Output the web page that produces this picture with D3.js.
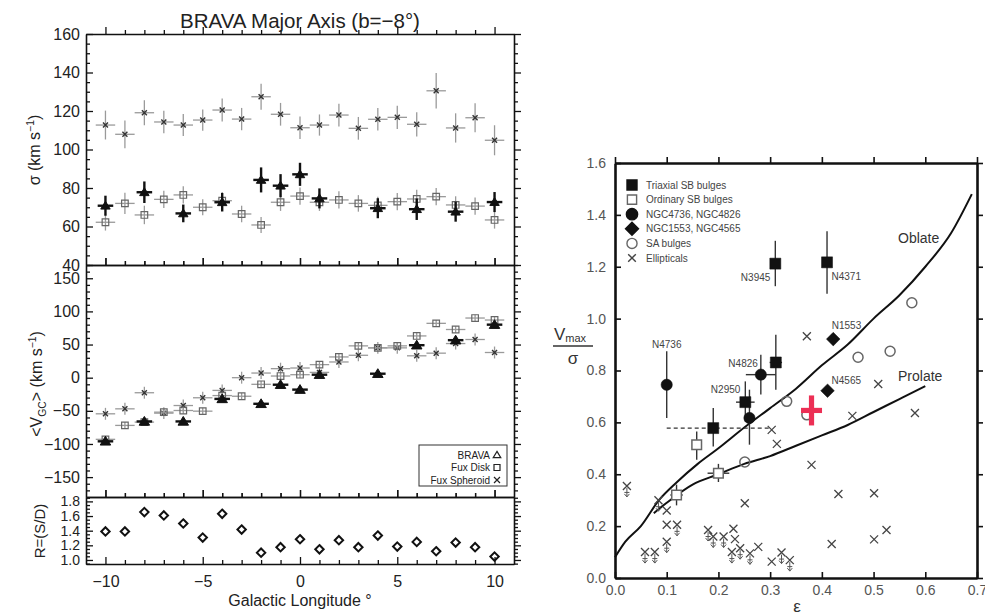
<!DOCTYPE html>
<html>
<head>
<meta charset="utf-8">
<script src="https://cdn.jsdelivr.net/npm/d3@7"></script>
<style>
body { margin: 0; background: #fff; }
svg { display: block; font-family: "Liberation Sans", Arial, sans-serif; }
</style>
</head>
<body>
<div id="chart"></div>
<script>
// ---------- left figure: BRAVA major axis (b=-8) ----------
const lonAll   = [-10,-9,-8,-7,-6,-5,-4,-3,-2,-1,0,1,2,3,4,5,6,7,8,9,10];
const lonBrava = [-10,-8,-6,-4,-2,-1,0,1,4,6,8,10];

// sigma (km/s)
const sigSph      = [112.7,107.9,119.1,114.3,112.7,115.3,120.5,115.8,127.4,118.3,111.3,112.7,117.9,111,115.7,116.7,113.1,130.5,111.2,116.5,104.8];
const sigSphErr   = [7.5,7.2,6.5,5.8,5.7,5.5,6,5.8,6.7,5.9,5.9,5.5,5.9,5.9,5.8,6,6.3,9.2,7.6,7.5,7.8];
const sigDisk     = [62.2,72,66,74.1,76.4,70,73.4,66.5,60.8,72.6,75.8,72.6,73.8,72,71,72.9,74.3,75.5,71.2,70.6,63.4];
const sigDiskErr  = [4.3,5.5,4.8,4.5,4.5,4.2,4.5,4.3,4.2,4.5,4.5,4.5,4.5,4.3,4.5,4.5,4.8,4.5,4.5,4.5,4.5];
const sigBrava    = [70.8,77.8,66.8,72.6,84.2,81.2,87.1,74.6,69.5,69,67.7,72.7];
const sigBravaErr = [5.2,5.6,4.6,4.8,6.5,6,6,5.2,5.2,5.6,5.2,5.2];

// mean velocity <V_GC> (km/s)
const velSph     = [-54.5,-47,-22.7,-53.5,-42,-30.3,-19.2,0,7,13.6,14.6,8,23.7,33.8,45,45,33,37,51.5,57.6,38];
const velDisk    = [-93,-72,-67,-52,-49.5,-50.5,-27,-28,-10,2.5,4.5,19.7,31.3,48,45,48,63,82,72.7,90,87];
const velBrava   = [-96,-66,-66,-32,-39.4,-10.6,-18,4.5,6,49,56.6,80];
const velSphErr  = 9, velDiskErr = 5, velBravaErr = 4;

// spheroid/disk ratio
const ratioR = [1.389,1.389,1.654,1.608,1.498,1.306,1.631,1.416,1.10,1.174,1.283,1.146,1.27,1.174,1.334,1.183,1.247,1.119,1.238,1.174,1.046];

// ---------- right figure: Vmax/sigma vs ellipticity ----------
const legendLabels = ["Triaxial SB bulges","Ordinary SB bulges","NGC4736, NGC4826","NGC1553, NGC4565","SA bulges","Ellipticals"];

const triEps = [0.31,0.41,0.311,0.252,0.19];
const triV   = [1.212,1.217,0.831,0.678,0.578];
const triLo  = [1.125,1.096,0.726,0.603,0.507];
const triHi  = [1.30,1.337,0.938,0.758,0.655];
const triEpsErr = [0,0,0.012,0.018,0];

const ordEps = [0.158,0.2,0.119];
const ordV   = [0.514,0.404,0.32];
const ordLo  = [0.456,0.37,0.28];
const ordHi  = [0.565,0.44,0.36];
const ordEpsErr = [0,0.021,0.012];

const circEps = [0.1,0.282,0.26];
const circV   = [0.745,0.784,0.617];
const circLo  = [0.617,0.707,0.514];
const circHi  = [0.874,0.861,0.726];
const circEpsErr = [0,0.029,0];

const diaEps = [0.422,0.411];
const diaV   = [0.921,0.722];

const saEps = [0.574,0.47,0.532,0.332,0.371,0.251];
const saV   = [1.061,0.851,0.874,0.681,0.629,0.447];

const ellEps = [0.023,0.058,0.077,0.084,0.10,0.10,0.12,0.10,0.18,0.19,0.21,0.229,0.232,0.226,0.242,0.261,0.277,0.303,0.322,0.338,0.251,0.303,0.313,0.371,0.38,0.432,0.419,0.501,0.501,0.525,0.459,0.509,0.58];
const ellV   = [0.355,0.10,0.10,0.30,0.26,0.205,0.205,0.14,0.185,0.16,0.16,0.19,0.15,0.10,0.115,0.095,0.12,0.063,0.098,0.069,0.288,0.571,0.517,0.932,0.436,0.324,0.131,0.327,0.149,0.185,0.625,0.748,0.636];
const ellLim = [1,1,1,1,0,0,1,1,1,1,1,0,0,1,1,1,0,0,1,1,0,0,0,0,0,0,0,0,0,0,0,0,0];

const galNames = ["N3945","N4371","N4736","N4826","N2950","N1553","N4565"];
const galEps   = [0.31,0.41,0.1,0.282,0.252,0.422,0.411];
const galV     = [1.212,1.217,0.745,0.784,0.678,0.921,0.722];

const oblateEps = [0,0.02,0.05,0.085,0.12,0.16,0.2,0.25,0.3,0.35,0.4,0.45,0.5,0.55,0.6,0.65,0.69];
const oblateV   = [0.08,0.14,0.2,0.3,0.37,0.44,0.5,0.58,0.655,0.73,0.82,0.9,1.0,1.09,1.2,1.33,1.48];
const prolEps   = [0.075,0.1,0.15,0.2,0.25,0.3,0.35,0.4,0.45,0.5,0.55,0.6];
const prolV     = [0.25,0.29,0.36,0.40,0.44,0.47,0.51,0.55,0.59,0.64,0.69,0.74];

const thisEps = 0.38, thisV = 0.646;     // red cross
const limitV = 0.578, limitEps = [0.1, 0.30]; // dashed range

// ---------------------------------------------------------
const svg = d3.select("#chart").append("svg")
    .attr("width", 985).attr("height", 615);
svg.append("rect").attr("width", 985).attr("height", 615).attr("fill", "#fff");

// marker paths
const sqPath = s => `M${-s},${-s}h${2*s}v${2*s}h${-2*s}Z`;
const triPath = s => `M0,${-s}L${s*1.05},${s*0.75}L${-s*1.05},${s*0.75}Z`;
const diaPath = s => `M0,${-s}L${s},0L0,${s}L${-s},0Z`;
const timesPath = s => `M${-s},${-s}L${s},${s}M${-s},${s}L${s},${-s}`;

// four-sided frame with inward ticks
function boxAxes(g, x, y, o) {
    const [yb, yt] = y.range();
    const [xl, xr] = x.range();
    const put = (axis, tx, ty, tv, size, fmt, pad, keepDomain) => {
        const s = g.append("g")
            .attr("transform", `translate(${tx},${ty})`)
            .call(axis.tickValues(tv).tickSize(-size).tickSizeOuter(0)
                .tickPadding(pad).tickFormat(fmt || (() => "")));
        if (!keepDomain) s.select(".domain").remove();
        s.select(".domain").attr("stroke", o.color).attr("stroke-width", o.lw);
        s.selectAll(".tick line").attr("stroke", o.color).attr("stroke-width", o.tw);
        s.selectAll(".tick text").attr("fill", o.textColor)
            .style("font-size", o.font + "px")
            .style("font-family", '"Liberation Sans", Arial, sans-serif');
        return s;
    };
    put(d3.axisBottom(x), 0, yb, o.xMajor, o.major, o.xFmt, o.xPad, true);
    put(d3.axisTop(x), 0, yt, o.xMajor, -o.major, null, 0, true);
    put(d3.axisLeft(y), xl, 0, o.yMajor, o.major, o.yFmt, o.yPad, true);
    put(d3.axisRight(y), xr, 0, o.yMajor, -o.major, null, 0, true);
    if (o.xMinor) {
        put(d3.axisBottom(x), 0, yb, o.xMinor, o.minor, null, 0, false);
        put(d3.axisTop(x), 0, yt, o.xMinor, -o.minor, null, 0, false);
    }
    if (o.yMinor) {
        put(d3.axisLeft(y), xl, 0, o.yMinor, o.minor, null, 0, false);
        put(d3.axisRight(y), xr, 0, o.yMinor, -o.minor, null, 0, false);
    }
}

// ================= LEFT =================
const left = svg.append("g");
const xL   = d3.scaleLinear().domain([-11, 11]).range([86, 514]);
const ySig = d3.scaleLinear().domain([40, 160]).range([265, 34]);
const yVel = d3.scaleLinear().domain([-180, 170]).range([497, 265]);
const yR   = d3.scaleLinear().domain([0.945, 1.86]).range([564, 497]);

const lonMajor = [-10,-5,0,5,10];
const lonMinor = lonAll.filter(v => v % 5 !== 0);
const leftStyle = {color: "#111", textColor: "#222", lw: 1.6, tw: 1.3, major: 7, minor: 4, font: 16};

boxAxes(left, xL, ySig, {...leftStyle, xMajor: lonMajor, xMinor: lonMinor,
    yMajor: [40,60,80,100,120,140,160], yMinor: d3.range(45, 160, 5).filter(v => v % 20 !== 0),
    yFmt: d3.format("d"), yPad: 6});
boxAxes(left, xL, yVel, {...leftStyle, xMajor: lonMajor, xMinor: lonMinor,
    yMajor: [-150,-100,-50,0,50,100,150], yMinor: d3.range(-170, 171, 10).filter(v => v % 50 !== 0),
    yFmt: d3.format("d"), yPad: 6});
boxAxes(left, xL, yR, {...leftStyle, font: 14, xMajor: lonMajor, xMinor: lonMinor,
    yMajor: [1.0,1.2,1.4,1.6,1.8], yMinor: [0.95,1.05,1.1,1.15,1.25,1.3,1.35,1.45,1.5,1.55,1.65,1.7,1.75,1.85],
    yFmt: d3.format(".1f"), yPad: 6, xFmt: d3.format("d"), xPad: 12});
left.selectAll("g").filter(function () { return this.getAttribute("transform") === "translate(0,564)"; })
    .selectAll(".tick text").style("font-size", "16px");

// error bars helper
function errBars(g, xs, ys, errs, x, y, halfW, color, w) {
    xs.forEach((l, i) => {
        const e = Array.isArray(errs) ? errs[i] : errs;
        g.append("line").attr("x1", x(l - halfW)).attr("x2", x(l + halfW))
            .attr("y1", y(ys[i])).attr("y2", y(ys[i]))
            .attr("stroke", color).attr("stroke-width", w);
        g.append("line").attr("x1", x(l)).attr("x2", x(l))
            .attr("y1", y(ys[i] - e)).attr("y2", y(ys[i] + e))
            .attr("stroke", color).attr("stroke-width", w);
    });
}
function markers(g, xs, ys, x, y, d, fill, stroke, sw) {
    g.selectAll(null).data(xs).enter().append("path")
        .attr("transform", (l, i) => `translate(${x(l)},${y(ys[i])})`)
        .attr("d", d).attr("fill", fill).attr("stroke", stroke).attr("stroke-width", sw);
}

const grayBar = "#9a9a9a", grayMk = "#666";

// sigma panel
const gS = left.append("g");
errBars(gS, lonAll, sigSph, sigSphErr, xL, ySig, 0.5, grayBar, 1.3);
markers(gS, lonAll, sigSph, xL, ySig, timesPath(2.5), "none", "#333", 1.4);
errBars(gS, lonAll, sigDisk, sigDiskErr, xL, ySig, 0.5, grayBar, 1.3);
markers(gS, lonAll, sigDisk, xL, ySig, sqPath(3.3), "none", grayMk, 1.2);
errBars(gS, lonBrava, sigBrava, sigBravaErr, xL, ySig, 0.4, "#111", 2.4);
markers(gS, lonBrava, sigBrava, xL, ySig, triPath(4.5), "#111", "#111", 1);

// velocity panel
const gV = left.append("g");
errBars(gV, lonAll, velSph, velSphErr, xL, yVel, 0.5, grayBar, 1.3);
markers(gV, lonAll, velSph, xL, yVel, timesPath(2.5), "none", "#333", 1.4);
errBars(gV, lonAll, velDisk, velDiskErr, xL, yVel, 0.5, grayBar, 1.3);
markers(gV, lonAll, velDisk, xL, yVel, sqPath(3.3), "none", grayMk, 1.2);
errBars(gV, lonBrava, velBrava, velBravaErr, xL, yVel, 0.4, "#111", 2.4);
markers(gV, lonBrava, velBrava, xL, yVel, triPath(5), "#111", "#111", 1);

// legend box (velocity panel)
const lg = left.append("g");
lg.append("rect").attr("x", 419).attr("y", 445).attr("width", 88).attr("height", 41)
    .attr("fill", "#fff").attr("stroke", "#333").attr("stroke-width", 1);
const legL = ["BRAVA", "Fux Disk", "Fux Spheroid"];
const legSym = [triPath(3.6), sqPath(3), timesPath(3)];
legL.forEach((t, i) => {
    const yy = 455 + i * 12.5;
    lg.append("text").attr("x", 490).attr("y", yy + 3.5).attr("text-anchor", "end")
        .style("font-size", "10px").attr("fill", "#222").text(t);
    lg.append("path").attr("transform", `translate(497,${yy})`).attr("d", legSym[i])
        .attr("fill", "none").attr("stroke", "#222").attr("stroke-width", 1.2);
});

// ratio panel
left.append("g").selectAll("path").data(lonAll).enter().append("path")
    .attr("transform", (l, i) => `translate(${xL(l)},${yR(ratioR[i])})`)
    .attr("d", diaPath(4.2)).attr("fill", "none").attr("stroke", "#111").attr("stroke-width", 2);

// titles & labels
left.append("text").attr("x", 300).attr("y", 28).attr("text-anchor", "middle")
    .style("font-size", "20.5px").attr("fill", "#222").text("BRAVA Major Axis (b=−8°)");
left.append("text").attr("x", 300).attr("y", 606).attr("text-anchor", "middle")
    .style("font-size", "16px").attr("fill", "#222").text("Galactic Longitude °");

function rotLabel(cx, cy, parts, size) {
    const t = left.append("text").attr("transform", `translate(${cx},${cy}) rotate(-90)`)
        .attr("text-anchor", "middle").attr("dy", "0.35em")
        .style("font-size", size + "px").attr("fill", "#222");
    parts.forEach(p => {
        const s = t.append("tspan").text(p[0]);
        if (p[1] === "sup") s.attr("dy", -6).style("font-size", (size * 0.65) + "px");
        if (p[1] === "sub") s.attr("dy", 4).style("font-size", (size * 0.65) + "px");
        if (p[1] === "reset") s.attr("dy", p[2]);
    });
}
rotLabel(34, 150, [["σ  (km s"], ["−1", "sup"], [")", "reset", 6]], 16);
rotLabel(36, 384, [["<V"], ["GC", "sub"], [">", "reset", -4], [" (km s"], ["−1", "sup"], [")", "reset", 6]], 16);
rotLabel(40, 531, [["R=(S/D)"]], 15);

// ================= RIGHT =================
const right = svg.append("g");
const xE = d3.scaleLinear().domain([0, 0.7]).range([615, 977]);
const yQ = d3.scaleLinear().domain([0, 1.6]).range([578, 163]);

boxAxes(right, xE, yQ, {color: "#111", textColor: "#555", lw: 2.6, tw: 1.6, major: 6, font: 14,
    xMajor: [0,0.1,0.2,0.3,0.4,0.5,0.6,0.7], yMajor: [0,0.2,0.4,0.6,0.8,1.0,1.2,1.4,1.6],
    xFmt: d3.format(".1f"), yFmt: d3.format(".1f"), xPad: 7, yPad: 9});

// model curves
const lineGen = d3.line().curve(d3.curveMonotoneX);
right.append("path").attr("d", lineGen(oblateEps.map((e, i) => [xE(e), yQ(oblateV[i])])))
    .attr("fill", "none").attr("stroke", "#111").attr("stroke-width", 2);
right.append("path").attr("d", lineGen(prolEps.map((e, i) => [xE(e), yQ(prolV[i])])))
    .attr("fill", "none").attr("stroke", "#111").attr("stroke-width", 2);
right.append("text").attr("x", 898).attr("y", 243).style("font-size", "14px").attr("fill", "#333").text("Oblate");
right.append("text").attr("x", 898).attr("y", 381).style("font-size", "14px").attr("fill", "#333").text("Prolate");

// dashed limit line
right.append("line").attr("x1", xE(limitEps[0])).attr("x2", xE(limitEps[1]))
    .attr("y1", yQ(limitV)).attr("y2", yQ(limitV))
    .attr("stroke", "#333").attr("stroke-width", 1.3).attr("stroke-dasharray", "4,3");

// ellipticals
const gE = right.append("g");
ellEps.forEach((e, i) => {
    const cx = xE(e), cy = yQ(ellV[i]);
    gE.append("path").attr("transform", `translate(${cx},${cy})`).attr("d", timesPath(4))
        .attr("fill", "none").attr("stroke", "#444").attr("stroke-width", 1.3);
    if (ellLim[i]) {
        gE.append("path").attr("transform", `translate(${cx},${cy})`)
            .attr("d", "M0,2V11M-2.5,8L0,11L2.5,8M-2.5,6.5H2.5")
            .attr("fill", "none").attr("stroke", "#555").attr("stroke-width", 1);
    }
});

// error bars for bulges
function qErr(g, eps, v, lo, hi, ee) {
    eps.forEach((e, i) => {
        g.append("line").attr("x1", xE(e)).attr("x2", xE(e)).attr("y1", yQ(lo[i])).attr("y2", yQ(hi[i]))
            .attr("stroke", "#333").attr("stroke-width", 1.4);
        if (ee[i]) g.append("line").attr("x1", xE(e - ee[i])).attr("x2", xE(e + ee[i]))
            .attr("y1", yQ(v[i])).attr("y2", yQ(v[i])).attr("stroke", "#333").attr("stroke-width", 1.4);
    });
}
const gB = right.append("g");
qErr(gB, ordEps, ordV, ordLo, ordHi, ordEpsErr);
qErr(gB, triEps, triV, triLo, triHi, triEpsErr);
qErr(gB, circEps, circV, circLo, circHi, circEpsErr);

markers(gB, saEps, saV, xE, yQ, d3.symbol().type(d3.symbolCircle).size(78)(), "none", "#666", 1.5);
markers(gB, ordEps, ordV, xE, yQ, sqPath(4.8), "#fff", "#666", 1.5);
markers(gB, triEps, triV, xE, yQ, sqPath(5.5), "#111", "#111", 0.5);
markers(gB, circEps, circV, xE, yQ, d3.symbol().type(d3.symbolCircle).size(100)(), "#111", "#111", 0.5);
markers(gB, diaEps, diaV, xE, yQ, diaPath(6.8), "#111", "#111", 0.5);

// red cross
const rc = right.append("g").attr("transform", `translate(${xE(thisEps)},${yQ(thisV)})`);
rc.append("rect").attr("x", -2.6).attr("y", -15).attr("width", 5.2).attr("height", 30).attr("fill", "#ec2f55");
rc.append("rect").attr("x", -10.5).attr("y", -2.6).attr("width", 21).attr("height", 5.2).attr("fill", "#ec2f55");

// galaxy labels
const labOff = {
    N3945: [-5, 17, "end"], N4371: [4.5, 18, "start"], N4736: [0, -37, "middle"],
    N4826: [-3, -8, "end"], N2950: [-5, -9, "end"], N1553: [-1.5, -10, "start"], N4565: [4, -7, "start"]
};
galNames.forEach((n, i) => {
    const o = labOff[n];
    right.append("text").attr("x", xE(galEps[i]) + o[0]).attr("y", yQ(galV[i]) + o[1])
        .attr("text-anchor", o[2]).style("font-size", "10px").attr("fill", "#444").text(n);
});

// legend
const legMk = [
    {d: sqPath(5), fill: "#111", stroke: "#111"},
    {d: sqPath(4.6), fill: "none", stroke: "#666"},
    {d: d3.symbol().type(d3.symbolCircle).size(100)(), fill: "#111", stroke: "#111"},
    {d: diaPath(6.5), fill: "#111", stroke: "#111"},
    {d: d3.symbol().type(d3.symbolCircle).size(80)(), fill: "none", stroke: "#666"},
    {d: timesPath(3.8), fill: "none", stroke: "#444"}
];
legendLabels.forEach((t, i) => {
    const yy = 185 + i * 14.6;
    right.append("path").attr("transform", `translate(632,${yy})`).attr("d", legMk[i].d)
        .attr("fill", legMk[i].fill).attr("stroke", legMk[i].stroke).attr("stroke-width", 1.4);
    right.append("text").attr("x", 646).attr("y", yy + 3.6).style("font-size", "10px")
        .attr("fill", "#444").text(t);
});

// axis labels
const yl = right.append("g").attr("fill", "#333");
const vt = yl.append("text").attr("x", 554).attr("y", 340).style("font-size", "17px");
vt.append("tspan").text("V");
vt.append("tspan").attr("dy", 2).style("font-size", "11px").text("max");
yl.append("line").attr("x1", 553).attr("x2", 593).attr("y1", 346).attr("y2", 346)
    .attr("stroke", "#333").attr("stroke-width", 1.3);
yl.append("text").attr("x", 573).attr("y", 364).attr("text-anchor", "middle")
    .style("font-size", "17px").text("σ");
right.append("text").attr("x", 797).attr("y", 612).attr("text-anchor", "middle")
    .style("font-size", "17px").attr("fill", "#333").text("ε");
</script>
</body>
</html>
